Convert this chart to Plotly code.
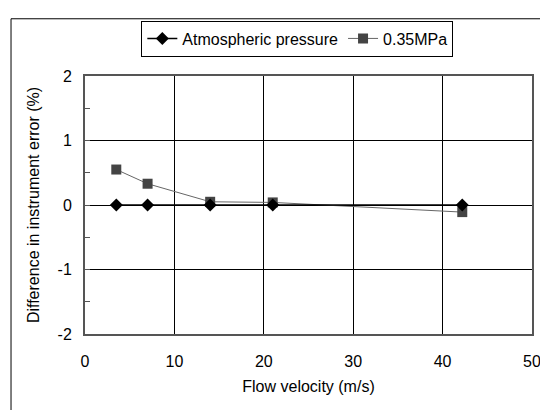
import plotly.graph_objects as go

# data
velocity = [3.5, 7.0, 14.0, 21.0, 42.2]
atm_diff = [0.0, 0.0, 0.0, 0.0, 0.0]
mpa_diff = [0.55, 0.33, 0.05, 0.04, -0.11]
y_ticks = [-2, -1, 0, 1, 2]
y_labels = ["-2", "-1", "0", "1", "2"]
x_ticks = [0, 10, 20, 30, 40, 50]

FONT = "Liberation Sans, Arial, sans-serif"

fig = go.Figure()

fig.add_trace(go.Scatter(
    x=velocity, y=mpa_diff, name="0.35MPa", mode="lines+markers",
    line=dict(color="#666666", width=1),
    marker=dict(symbol="square", size=10, color="#444444"),
))
fig.add_trace(go.Scatter(
    x=velocity, y=atm_diff, name="Atmospheric pressure", mode="lines+markers",
    line=dict(color="black", width=1.5),
    marker=dict(symbol="diamond", size=10, color="black"),
))

# outer chart frame (runs off the right and bottom of the page)
fig.add_shape(type="rect", xref="paper", yref="paper",
              x0=-0.1655, x1=1.5, y0=-0.6, y1=1.2218,
              line=dict(color="black", width=1), layer="below")

# page body has an 8px margin, so the figure is 8px smaller than the window
fig.update_layout(
    width=540, height=402,
    margin=dict(l=77, r=16, t=60, b=76),
    paper_bgcolor="white", plot_bgcolor="white",
    font=dict(family=FONT, size=16, color="black"),
    legend=dict(
        orientation="h", x=0.475, xanchor="center", y=1.215, yanchor="top",
        bordercolor="black", borderwidth=1, traceorder="reversed",
        font=dict(family=FONT, size=16, color="black"), itemwidth=30,
    ),
    showlegend=True,
)

fig.update_xaxes(
    range=[0, 50], tickvals=x_ticks, showgrid=True, gridcolor="black", gridwidth=1,
    showline=True, linecolor="#555555", linewidth=2, mirror=True,
    zeroline=False, ticks="", ticklabelstandoff=12, automargin=False,
    tickfont=dict(family=FONT, size=16, color="black"),
    title=dict(text="Flow velocity (m/s)", standoff=12,
               font=dict(family=FONT, size=16, color="black")),
)
fig.update_yaxes(
    range=[-2, 2], tickvals=y_ticks, ticktext=y_labels,
    showgrid=True, gridcolor="black", gridwidth=1,
    showline=True, linecolor="#555555", linewidth=2, mirror=True,
    zeroline=False, ticks="inside", ticklen=5, tickcolor="#555555",
    ticklabelstandoff=8, automargin=False,
    tickfont=dict(family=FONT, size=16, color="black"),
    minor=dict(dtick=0.5, ticks="inside", ticklen=5, tickcolor="#555555", showgrid=False),
    title=dict(text="Difference in instrument error (%)", standoff=14,
               font=dict(family=FONT, size=16, color="black")),
)

fig.write_html("out.html")
